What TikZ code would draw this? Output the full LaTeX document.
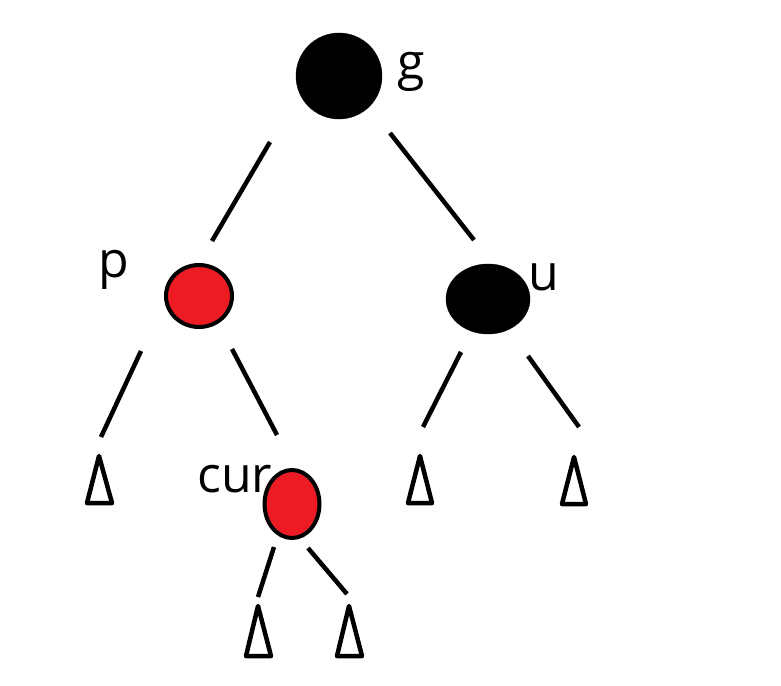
\documentclass[tikz,border=0pt]{standalone}
\usepackage{fontspec}
\setmainfont{Open Sans}
\usetikzlibrary{shapes.geometric}
\definecolor{paintred}{RGB}{237,28,36}
\begin{document}
\begin{tikzpicture}[x=1pt,y=-1pt,
  blacknode/.style={ellipse,fill=black,draw=black,inner sep=0pt},
  rednode/.style={ellipse,fill=paintred,draw=black,line width=4pt,inner sep=0pt},
  lbl/.style={font=\fontsize{50}{50}\selectfont,anchor=base west,inner sep=0pt},
  edge/.style={line width=4.5pt},
  leaf/.style={line width=4.5pt,line join=round}]
\useasboundingbox[fill=white] (0,0) rectangle (781,685);
% nodes
\node[blacknode,minimum width=86pt,minimum height=86pt] (g) at (339,76) {};
\node[rednode,minimum width=66pt,minimum height=62pt] (p) at (199,296) {};
\node[blacknode,minimum width=84pt,minimum height=70pt] (u) at (488,299) {};
\node[rednode,minimum width=55pt,minimum height=68pt] (cur) at (292,504) {};
% labels
\node[lbl] (lg) at (397,79) {g};
\node[lbl] (lp) at (98,277) {p};
\node[lbl] (lu) at (528,290) {u};
\node[lbl] (lcur) at (197,492) {cur};
% edge end points
\coordinate (gp1) at (270,142); \coordinate (gp2) at (212,241);
\coordinate (gu1) at (390,133); \coordinate (gu2) at (474,240);
\coordinate (pl1) at (141,351); \coordinate (pl2) at (101,437);
\coordinate (pr1) at (232,349); \coordinate (pr2) at (277,435);
\coordinate (ul1) at (461,352); \coordinate (ul2) at (423,427);
\coordinate (ur1) at (528,356); \coordinate (ur2) at (579,427);
\coordinate (cl1) at (274,547); \coordinate (cl2) at (258,597);
\coordinate (cr1) at (308,548); \coordinate (cr2) at (347,594);
\draw[edge] (gp1) -- (gp2);
\draw[edge] (gu1) -- (gu2);
\draw[edge] (pl1) -- (pl2);
\draw[edge] (pr1) -- (pr2);
\draw[edge] (ul1) -- (ul2);
\draw[edge] (ur1) -- (ur2);
\draw[edge] (cl1) -- (cl2);
\draw[edge] (cr1) -- (cr2);
% leaf triangles
\coordinate (t1) at (99,456);
\coordinate (t2) at (420,456);
\coordinate (t3) at (574,457);
\coordinate (t4) at (258,606);
\coordinate (t5) at (349,606);
\draw[leaf] (t1) -- ++(-12,47) -- ++(25,0) -- cycle;
\draw[leaf] (t2) -- ++(-12,47) -- ++(24,0) -- cycle;
\draw[leaf] (t3) -- ++(-12,47) -- ++(24,0) -- cycle;
\draw[leaf] (t4) -- ++(-12,50) -- ++(25,0) -- cycle;
\draw[leaf] (t5) -- ++(-12,50) -- ++(25,0) -- cycle;
\end{tikzpicture}
\end{document}
